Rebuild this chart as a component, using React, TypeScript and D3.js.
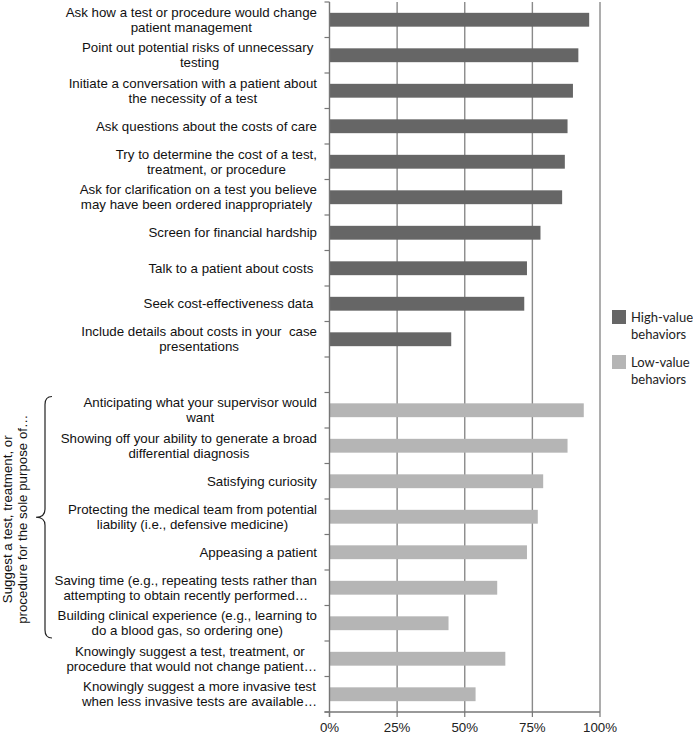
import React from 'react';
import * as d3 from 'd3';

// high-value behaviors (top group)
const highLabels = [
  'Ask how a test or procedure would change\npatient management',
  'Point out potential risks of unnecessary \ntesting',
  'Initiate a conversation with a patient about\nthe necessity of a test',
  'Ask questions about the costs of care',
  'Try to determine the cost of a test,\ntreatment, or procedure',
  'Ask for clarification on a test you believe\nmay have been ordered inappropriately ',
  'Screen for financial hardship',
  'Talk to a patient about costs ',
  'Seek cost-effectiveness data ',
  'Include details about costs in your  case\npresentations',
];
const highValues = [96, 92, 90, 88, 87, 86, 78, 73, 72, 45];

// low-value behaviors (bottom group)
const lowLabels = [
  'Anticipating what your supervisor would\nwant',
  'Showing off your ability to generate a broad\ndifferential diagnosis',
  'Satisfying curiosity',
  'Protecting the medical team from potential\nliability (i.e., defensive medicine)',
  'Appeasing a patient',
  'Saving time (e.g., repeating tests rather than\nattempting to obtain recently performed…',
  'Building clinical experience (e.g., learning to\ndo a blood gas, so ordering one)',
  'Knowingly suggest a test, treatment, or \nprocedure that would not change patient…',
  'Knowingly suggest a more invasive test\nwhen less invasive tests are available…',
];
const lowValues = [94, 88, 79, 77, 73, 62, 44, 65, 54];

const xTicks = [0, 25, 50, 75, 100];
const legendItems = ['High-value\nbehaviors', 'Low-value\nbehaviors'];
const braceText = ['Suggest a test, treatment, or', 'procedure for the sole purpose of…'];

const W = 693;
const H = 735;
const FAMILY = '"Liberation Sans", Arial, sans-serif';
const FS = 13.3;

let ctx: CanvasRenderingContext2D | null = null;
function measure(s: string) {
  if (!ctx) {
    ctx = document.createElement('canvas').getContext('2d');
  }
  if (!ctx) return s.length * 6.5;
  ctx.font = `${FS}px ${FAMILY}`;
  return ctx.measureText(s).width;
}

export default function App() {
  const rows = [
    ...highLabels.map((l, i) => ({ key: 'h' + i, label: l, value: highValues[i], color: '#666666' })),
    { key: 'gap', label: '', value: null as number | null, color: '' },
    ...lowLabels.map((l, i) => ({ key: 'l' + i, label: l, value: lowValues[i], color: '#b5b5b5' })),
  ];

  const x = d3.scaleLinear().domain([0, 100]).range([329.5, 600]);
  const y = d3.scaleBand<string>().domain(rows.map(r => r.key)).range([2, 712]).padding(0);
  const step = y.step();
  const barH = step * 0.39;
  const labelRight = 317;

  const braceTop = y('l0')! + 4;
  const braceBot = y('l6')! + step - 3;
  const braceMid = (braceTop + braceBot) / 2;
  const bx = 45;
  const brace = `M ${bx + 7} ${braceTop} Q ${bx} ${braceTop} ${bx} ${braceTop + 8} L ${bx} ${braceMid - 8} Q ${bx} ${braceMid} ${bx - 9} ${braceMid} Q ${bx} ${braceMid} ${bx} ${braceMid + 8} L ${bx} ${braceBot - 8} Q ${bx} ${braceBot} ${bx + 7} ${braceBot}`;

  return (
    <svg width={W} height={H} style={{ position: 'absolute', left: 0, top: 0, background: '#fff' }}>
      {/* grid lines */}
      {xTicks.slice(1).map(t => (
        <line key={'g' + t} x1={x(t)} x2={x(t)} y1={2} y2={712} stroke="#8a8a8a" strokeWidth={1.4} />
      ))}

      {/* bars */}
      {rows.filter(r => r.value !== null).map(r => (
        <rect key={r.key} x={x(0)} y={y(r.key)! + (step - barH) / 2} width={x(r.value as number) - x(0)} height={barH} fill={r.color} />
      ))}

      {/* y axis + ticks */}
      <line x1={x(0)} x2={x(0)} y1={2} y2={717} stroke="#777" strokeWidth={1.4} />
      {d3.range(rows.length + 1).map(i => (
        <line key={'yt' + i} x1={x(0) - 5} x2={x(0)} y1={2 + i * step} y2={2 + i * step} stroke="#777" strokeWidth={1.2} />
      ))}

      {/* x axis */}
      <line x1={x(0) - 5} x2={x(100)} y1={712} y2={712} stroke="#777" strokeWidth={1.4} />
      {xTicks.map(t => (
        <g key={'xt' + t}>
          <line x1={x(t)} x2={x(t)} y1={712} y2={717} stroke="#777" strokeWidth={1.2} />
          <text x={x(t)} y={732} textAnchor="middle" fontSize={FS} fontFamily={FAMILY} fill="#222">{t + '%'}</text>
        </g>
      ))}

      {/* category labels */}
      {rows.filter(r => r.label).map(r => {
        const lines = r.label.split('\n');
        const blockW = Math.max(...lines.map(measure));
        const cx = labelRight - blockW / 2;
        const cy = y(r.key)! + step / 2;
        return (
          <text key={'lab' + r.key} fontSize={FS} fontFamily={FAMILY} fill="#111" textAnchor="middle" style={{ whiteSpace: 'pre' }}>
            {lines.map((ln, i) => (
              <tspan key={i} x={cx} y={cy + (i - (lines.length - 1) / 2) * 15} dy="0.35em">{ln}</tspan>
            ))}
          </text>
        );
      })}

      {/* brace and rotated group label */}
      <path d={brace} fill="none" stroke="#222" strokeWidth={1.2} />
      <text transform={`translate(0, ${braceMid + 2}) rotate(-90)`} fontSize={FS} fontFamily={FAMILY} fill="#111" textAnchor="middle">
        {braceText.map((t, i) => (
          <tspan key={i} x={0} y={7 + i * 15} dy="0.35em">{t}</tspan>
        ))}
      </text>

      {/* legend */}
      {legendItems.map((item, i) => {
        const top = 310 + i * 45;
        return (
          <g key={'leg' + i}>
            <rect x={612} y={top} width={14} height={14} fill={i === 0 ? '#666666' : '#b5b5b5'} />
            {item.split('\n').map((ln, j) => (
              <text key={j} x={631} y={top + 7 + j * 17} dy="0.35em" fontSize={13} fontFamily="Lato, 'Open Sans', sans-serif" fill="#222">{ln}</text>
            ))}
          </g>
        );
      })}
    </svg>
  );
}
